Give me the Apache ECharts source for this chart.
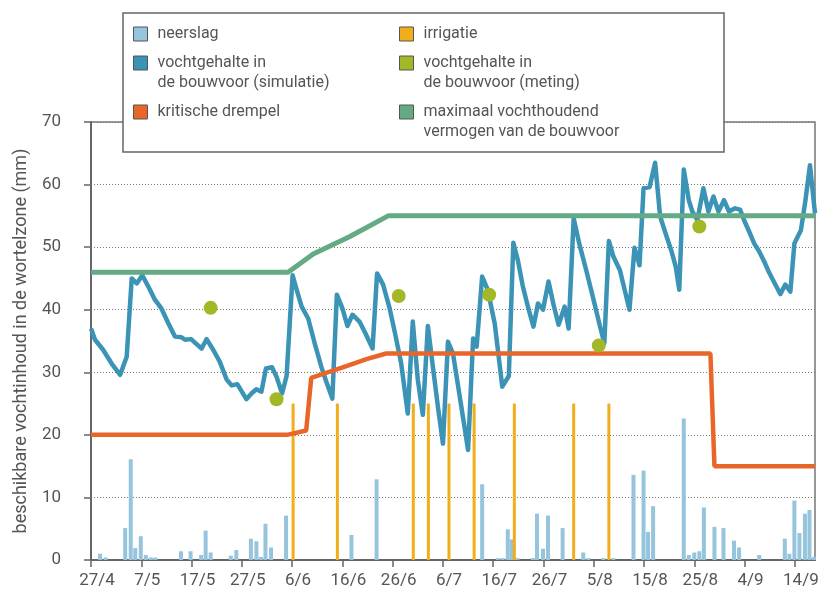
<!DOCTYPE html>
<html>
<head>
<meta charset="utf-8">
<script src="https://cdn.jsdelivr.net/npm/echarts@6/dist/echarts.min.js"></script>
<style>
  html, body { margin: 0; padding: 0; background: #fff; }
  #chart { width: 822px; height: 592px; }
</style>
</head>
<body>
<div id="chart"></div>
<script>
// x = days after 27/4
const xTickDays = [0, 10, 20, 30, 40, 50, 60, 70, 80, 90, 100, 110, 120, 130, 140];
const yTicks = [0, 10, 20, 30, 40, 50, 60, 70];

// neerslag (mm)
const rainDays = [1.8, 2.9, 6.8, 7.9, 8.8, 9.9, 10.9, 11.9, 12.8, 17.9, 19.8, 21.9, 22.8, 23.8,
  27.8, 28.9, 31.8, 32.9, 33.8, 34.7, 35.8, 38.8, 51.8, 56.8, 77.8, 80.9, 81.9, 82.9, 83.7,
  84.8, 87.9, 88.7, 89.9, 90.9, 93.8, 97.9, 98.9, 101.9, 103.9, 107.9, 109.9, 110.8, 111.8,
  117.9, 118.9, 120, 121, 121.9, 124, 125.8, 127.9, 128.9, 132.9, 138, 138.9, 139.9, 140.9,
  142, 142.9, 143.8];
const rainValues = [1.0, 0.4, 5.1, 16.1, 1.9, 3.8, 0.8, 0.4, 0.4, 1.4, 1.4, 0.8, 4.7, 1.2,
  0.7, 1.6, 3.4, 3.0, 0.5, 5.8, 2.0, 7.1, 4.0, 12.9, 12.1, 0.3, 0.3, 4.9, 3.3,
  0.3, 0.3, 7.4, 1.8, 7.1, 5.1, 1.2, 0.3, 0.3, 0.3, 13.6, 14.3, 4.5, 8.6,
  22.6, 0.8, 1.2, 1.4, 8.4, 5.3, 5.1, 3.1, 2.0, 0.8, 3.4, 1.0, 9.5, 4.3,
  7.4, 8.0, 0.5];

// irrigatie (mm)
const irrigationDays = [40.2, 49.0, 64.1, 67.1, 71.2, 76.2, 84.2, 96.0, 103.0];
const irrigationValues = [25, 25, 25, 25, 25, 25, 25, 25, 25];

// vochtgehalte in de bouwvoor (simulatie)
const simDays = [0, 0.8, 2.4, 4.1, 5.8, 7.1, 8.1, 9.1, 10.2, 11.4, 12.7, 14.0, 15.4, 16.7,
  18.0, 18.7, 19.9, 21.0, 22.0, 23.0, 24.3, 25.6, 27.0, 28.0, 29.1, 30.9, 31.9, 32.9, 33.9,
  34.8, 36.0, 36.9, 38.0, 38.9, 40.1, 40.9, 41.9, 43.2, 44.5, 45.8, 46.8, 48.0, 48.9, 50.0,
  51.0, 52.0, 53.4, 54.6, 56.0, 56.9, 58.1, 59.4, 60.4, 61.7, 63.0, 64.0, 65.0, 66.0, 67.0,
  68.0, 69.0, 70.0, 71.0, 72.0, 75.0, 76.0, 76.7, 77.8, 78.9, 80.3, 81.8, 83.1, 84.0, 84.9,
  85.9, 86.9, 88.0, 88.9, 89.9, 91.0, 92.0, 93.0, 94.2, 95.0, 96.0, 97.1, 98.5, 99.8, 101.1,
  102.1, 103.0, 103.9, 105.2, 107.1, 108.1, 109.1, 109.9, 111.1, 112.2, 113.2, 114.4, 115.4,
  116.3, 117.0, 117.9, 118.9, 119.6, 120.6, 121.8, 122.8, 123.8, 124.8, 125.9, 126.9, 128.1,
  129.1, 129.9, 130.9, 131.9, 132.9, 133.9, 134.9, 136.0, 137.1, 138.1, 139.1, 139.9, 141.2,
  142.1, 143.0, 144.0];
const simValues = [37.0, 35.2, 33.6, 31.4, 29.6, 32.5, 45.0, 44.2, 45.5, 43.7, 41.6, 40.2, 37.8, 35.7,
  35.6, 35.2, 35.3, 34.5, 33.8, 35.3, 33.6, 31.7, 28.8, 27.9, 28.1, 25.7, 26.6, 27.3, 26.9,
  30.6, 30.8, 29.3, 26.6, 29.4, 45.5, 43.2, 40.5, 38.6, 34.6, 30.9, 28.5, 25.8, 42.4, 40.2,
  37.4, 39.2, 38.1, 36.2, 33.8, 45.8, 44.0, 40.2, 36.5, 31.4, 23.4, 38.1, 28.8, 23.2, 37.4,
  30.9, 24.5, 18.6, 34.9, 33.0, 17.6, 35.4, 34.1, 45.3, 43.2, 37.8, 27.7, 29.4, 50.7, 47.9,
  43.7, 40.5, 37.3, 41.0, 40.0, 44.5, 40.8, 37.6, 40.5, 37.0, 54.6, 50.6, 46.3, 42.1, 37.8,
  34.6, 51.0, 48.5, 46.3, 40.0, 49.9, 47.1, 59.4, 59.6, 63.5, 54.9, 51.9, 49.5,
  46.9, 43.2, 62.4, 57.5, 55.7, 54.3, 59.4, 55.7, 58.1, 55.7, 57.5, 55.7, 56.2,
  56.0, 54.3, 52.5, 50.6, 49.3, 47.7, 45.9, 44.2, 42.5, 44.0, 42.9, 50.6, 52.7,
  57.5, 63.1, 55.4];

// vochtgehalte in de bouwvoor (meting)
const meetDays = [23.8, 36.9, 61.2, 79.2, 101.0, 121.0];
const meetValues = [40.3, 25.7, 42.2, 42.4, 34.3, 53.3];

// kritische drempel
const thresholdDays = [0, 39.0, 42.8, 43.8, 47.5, 50.8, 54.8, 58.7, 123.2, 124.0, 144];
const thresholdValues = [20, 20, 20.7, 29.1, 30.1, 31.0, 32.1, 33.0, 33.0, 15.0, 15.0];

// maximaal vochthoudend vermogen van de bouwvoor
const capacityDays = [0, 39.2, 44.2, 51.5, 59.1, 144];
const capacityValues = [46, 46, 48.9, 51.7, 55, 55];

const zip = (xs, ys) => xs.map((x, i) => [x, ys[i]]);

const names = {
  rain: 'neerslag',
  irr: 'irrigatie',
  sim: 'vochtgehalte in\nde bouwvoor (simulatie)',
  meet: 'vochtgehalte in\nde bouwvoor (meting)',
  thr: 'kritische drempel',
  cap: 'maximaal vochthoudend\nvermogen van de bouwvoor'
};

const font = 'Roboto';
const textGray = '#555';

function dayLabel(d) {
  const dt = new Date(2000, 3, 27 + d);
  return dt.getDate() + '/' + (dt.getMonth() + 1);
}

// twee regels: lege regel ervoor, zodat de eerste regel naast het icoon staat
function legendItem(name, left, top, twoLine) {
  return {
    data: [name],
    left: left,
    top: top,
    padding: 0,
    z: 11,
    selectedMode: false,
    icon: 'rect',
    itemWidth: 14,
    itemHeight: 14,
    itemStyle: { borderColor: '#555', borderWidth: 1 },
    formatter: twoLine ? (n => '\n' + n) : (n => n),
    textStyle: {
      fontFamily: font,
      fontSize: 16,
      lineHeight: 20,
      color: textGray,
      padding: [0, 0, 0, 5]
    }
  };
}

const chart = echarts.init(document.getElementById('chart'));

const option = {
  animation: false,
  backgroundColor: '#fff',
  textStyle: { fontFamily: font },
  grid: {
    left: 91, right: 7, top: 122, bottom: 32,
    show: true, borderColor: '#777', borderWidth: 1.5, backgroundColor: 'transparent'
  },
  graphic: [{
    type: 'rect',
    z: 10,
    shape: { x: 123, y: 13, width: 601, height: 139 },
    style: { fill: '#fff', stroke: '#666', lineWidth: 1.5 }
  }],
  legend: [
    legendItem(names.rain, 133, 24, false),
    legendItem(names.sim, 133, 33, true),
    legendItem(names.thr, 133, 102, false),
    legendItem(names.irr, 399, 24, false),
    legendItem(names.meet, 399, 33, true),
    legendItem(names.cap, 399, 82, true)
  ],
  xAxis: [{
    type: 'value',
    min: 0,
    max: 144,
    interval: 10,
    axisLine: { lineStyle: { color: '#666', width: 2 } },
    axisTick: { show: true, length: 7, customValues: xTickDays, lineStyle: { color: '#666', width: 1.5 } },
    axisLabel: {
      customValues: xTickDays,
      formatter: v => dayLabel(v),
      fontSize: 17, color: textGray, margin: 12, padding: [0, 0, 0, 12]
    },
    splitLine: { show: false }
  }, {
    type: 'value',
    min: 0,
    max: 144,
    show: false
  }],
  yAxis: {
    type: 'value',
    min: 0,
    max: 70,
    interval: 10,
    name: 'beschikbare vochtinhoud in de wortelzone (mm)',
    nameLocation: 'middle',
    nameGap: 58,
    nameTextStyle: { fontSize: 18, color: textGray },
    axisLine: { show: true, lineStyle: { color: '#666', width: 2 } },
    axisTick: { show: true, length: 7, lineStyle: { color: '#666', width: 1.5 } },
    axisLabel: { fontSize: 17, color: textGray, margin: 30 },
    splitLine: { show: true, lineStyle: { color: '#777', type: [1, 2], width: 1 } }
  },
  series: [{
    name: names.rain,
    type: 'bar',
    xAxisIndex: 0,
    barWidth: 4,
    z: 1,
    itemStyle: { color: '#96c4dc' },
    data: zip(rainDays, rainValues)
  }, {
    name: names.irr,
    type: 'bar',
    xAxisIndex: 1,
    barWidth: 3,
    z: 2,
    itemStyle: { color: '#f2ad1b' },
    data: zip(irrigationDays, irrigationValues)
  }, {
    name: names.sim,
    type: 'line',
    z: 3,
    showSymbol: false,
    symbol: 'none',
    itemStyle: { color: '#3b93b6' },
    lineStyle: { color: '#3b93b6', width: 4.5, join: 'round' },
    data: zip(simDays, simValues)
  }, {
    name: names.thr,
    type: 'line',
    z: 4,
    symbol: 'none',
    itemStyle: { color: '#e8662a' },
    lineStyle: { color: '#e8662a', width: 4.5 },
    data: zip(thresholdDays, thresholdValues)
  }, {
    name: names.cap,
    type: 'line',
    z: 4,
    symbol: 'none',
    itemStyle: { color: '#63aa85' },
    lineStyle: { color: '#63aa85', width: 5 },
    data: zip(capacityDays, capacityValues)
  }, {
    name: names.meet,
    type: 'scatter',
    z: 5,
    symbolSize: 14,
    itemStyle: { color: '#a3b727', opacity: 1 },
    data: zip(meetDays, meetValues)
  }]
};

chart.setOption(option);
</script>
</body>
</html>
